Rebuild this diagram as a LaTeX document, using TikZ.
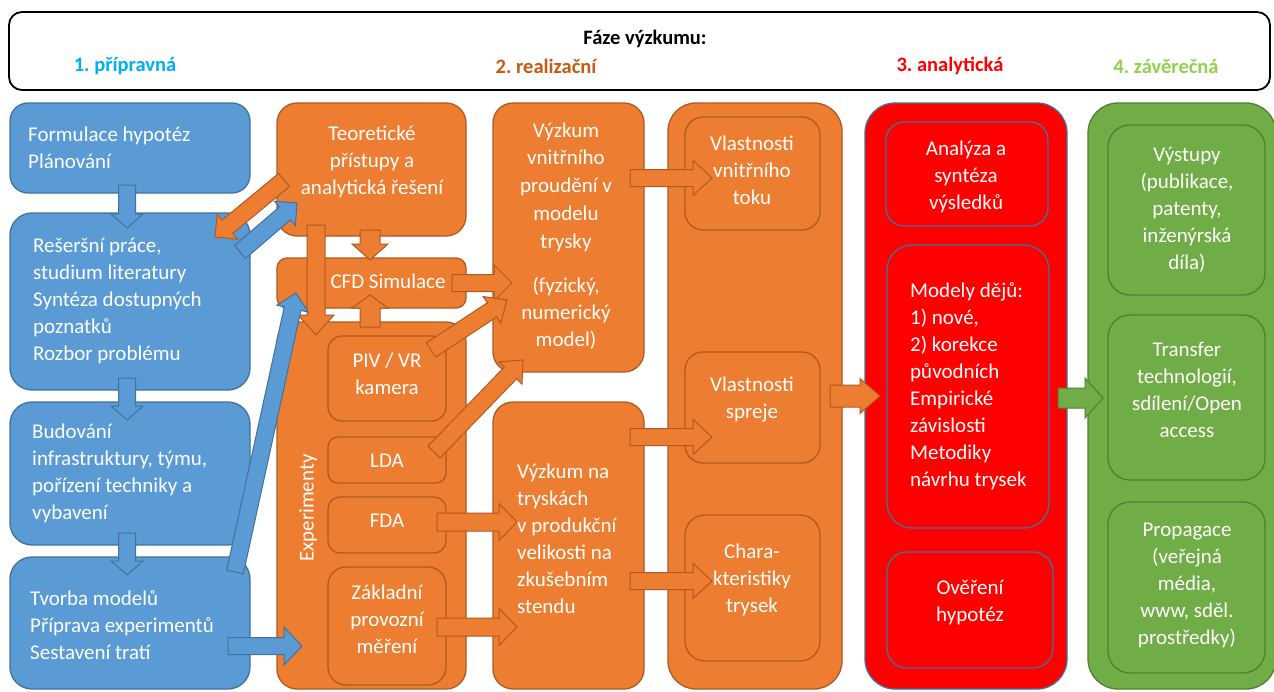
\documentclass[tikz,border=0pt]{standalone}
\usepackage{fontspec}
\setmainfont{Carlito}
\usetikzlibrary{calc}
\frenchspacing
\definecolor{bfill}{HTML}{5B9BD5}
\definecolor{bdraw}{HTML}{41719C}
\definecolor{ofill}{HTML}{ED7D31}
\definecolor{odraw}{HTML}{AE5A21}
\definecolor{rfill}{HTML}{FF0000}
\definecolor{gfill}{HTML}{70AD47}
\definecolor{gdraw}{HTML}{507E32}
\definecolor{phblue}{HTML}{00B0F0}
\definecolor{phorange}{HTML}{C55A11}
\definecolor{phred}{HTML}{FF0000}
\definecolor{phgreen}{HTML}{92D050}
\newcommand{\blockarrow}[6]{%
  \coordinate (bacc) at ($(#3)!#6pt!(#2)$);
  \filldraw[#1] ($(#2)!#4pt!90:(#3)$) -- ($(bacc)!#4pt!-90:(#2)$) -- ($(bacc)!#5pt!-90:(#2)$) -- (#3) -- ($(bacc)!#5pt!90:(#2)$) -- ($(bacc)!#4pt!90:(#2)$) -- ($(#2)!#4pt!-90:(#3)$) -- cycle;}
\newcommand{\boxat}[6]{% style, name, x1,y1,x2,y2
  \draw[#1] (#3,#4) rectangle (#5,#6);
  \coordinate (#2) at ({(#3+#5)/2},{(#4+#6)/2});}
\tikzset{
  bluebox/.style={fill=bfill, draw=bdraw, line width=1.3pt},
  orangebox/.style={fill=ofill, draw=odraw, line width=1.3pt},
  redbox/.style={fill=rfill, draw=bdraw, line width=1.3pt},
  greenbox/.style={fill=gfill, draw=gdraw, line width=1.3pt},
  barr/.style={fill=bfill, draw=bdraw, line width=1pt, line join=miter},
  oarr/.style={fill=ofill, draw=odraw, line width=1pt, line join=miter},
  garr/.style={fill=gfill, draw=gdraw, line width=1pt, line join=miter},
  txt/.style={text=white, font=\fontsize{21}{27}\selectfont, inner sep=0pt, align=center},
  ltxt/.style={txt, align=left, anchor=west},
  phase/.style={font=\fontsize{20.5}{22}\selectfont\bfseries, inner sep=0pt},
}
\begin{document}
\begin{tikzpicture}[x=1pt,y=-1pt]
\useasboundingbox (0,0) rectangle (1274,691);
\clip (0,0) rectangle (1274,691);
\fill[white] (0,0) rectangle (1274,691);
% header
\draw[black, line width=1.8pt, rounded corners=13pt, fill=white] (9,12) rectangle (1270,90);
\node[phase] (title) at (645,39) {Fáze výzkumu:};
\node[phase, text=phblue] (ph1) at (125,66) {1. přípravná};
\node[phase, text=phorange] (ph2) at (546,66) {2. realizační};
\node[phase, text=phred] (ph3) at (950,66) {3. analytická};
\node[phase, text=phgreen] (ph4) at (1166,66) {4. závěrečná};
% blue column
\boxat{bluebox, rounded corners=18pt}{b1}{10}{103}{250}{193}
\boxat{bluebox, rounded corners=22pt}{b2}{10}{213}{250}{390}
\boxat{bluebox, rounded corners=22pt}{b3}{10}{402}{250}{545}
\boxat{bluebox, rounded corners=22pt}{b4}{10}{557}{250}{689}
\node[ltxt] (b1t) at (28,148) {Formulace hypotéz\\Plánování};
\node[ltxt] (b2t) at (33,301) {Rešeršní práce,\\studium literatury\\Syntéza dostupných\\poznatků\\Rozbor problému};
\node[ltxt] (b3t) at (32,473) {Budování\\infrastruktury, týmu,\\pořízení techniky a\\vybavení};
\node[ltxt] (b4t) at (30,625) {Tvorba modelů\\Příprava experimentů\\Sestavení tratí};
% orange column 1
\boxat{orangebox, rounded corners=20pt}{teo}{277}{103}{466}{236}
\boxat{orangebox, rounded corners=10pt}{cfd}{277}{258}{466}{308}
\boxat{orangebox, rounded corners=20pt}{exp}{277}{322}{466}{689}
\boxat{orangebox, rounded corners=14pt}{piv}{328}{336}{446}{421}
\boxat{orangebox, rounded corners=10pt}{lda}{328}{437}{446}{483}
\boxat{orangebox, rounded corners=12pt}{fda}{328}{497}{446}{553}
\boxat{orangebox, rounded corners=18pt}{zak}{328}{567}{446}{685}
\node[txt] (teot) at (372,162) {Teoretické\\přístupy a\\analytická řešení};
\node[txt, rotate=90] (expt) at (308,508) {Experimenty};
\node[txt] (pivt) at (387,374) {PIV / VR\\kamera};
\node[txt] (ldat) at (387,461) {LDA};
\node[txt] (fdat) at (387,521) {FDA};
\node[txt] (zakt) at (387,619) {Základní\\provozní\\měření};
% orange column 2
\boxat{orangebox, rounded corners=20pt}{vvp}{493}{103}{644}{372}
\boxat{orangebox, rounded corners=20pt}{vnt}{493}{402}{644}{689}
\node[txt, font=\fontsize{21}{27.7}\selectfont] (vvpt) at (566,187) {Výzkum\\vnitřního\\proudění v\\modelu\\trysky};
\node[txt] (vvpt2) at (566,313) {(fyzický,\\numerický\\model)};
\node[ltxt] (vntt) at (517,539) {Výzkum na\\tryskách\\v produkční\\velikosti na\\zkušebním\\stendu};
% orange column 3
\boxat{orangebox, rounded corners=28pt}{col3}{668}{103}{842}{689}
\boxat{orangebox, rounded corners=18pt}{vvt}{685}{117}{820}{230}
\boxat{orangebox, rounded corners=18pt}{vsp}{685}{352}{820}{463}
\boxat{orangebox, rounded corners=20pt}{cht}{685}{515}{820}{661}
\node[txt] (vvtt) at (752,170) {Vlastnosti\\vnitřního\\toku};
\node[txt] (vspt) at (752,400) {Vlastnosti\\spreje};
\node[txt] (chtt) at (752,580) {Chara-\\kteristiky\\trysek};
% red column
\boxat{redbox, rounded corners=30pt}{red}{865}{103}{1067}{689}
\boxat{redbox, rounded corners=18pt}{ana}{886}{122}{1048}{226}
\boxat{redbox, rounded corners=25pt}{mod}{887}{245}{1049}{528}
\boxat{redbox, rounded corners=20pt}{ove}{887}{552}{1053}{668}
\node[txt] (anat) at (966,177) {Analýza a\\syntéza\\výsledků};
\node[ltxt] (modt) at (910,386) {Modely dějů:\\1) nové,\\2) korekce\\původních\\Empirické\\závislosti\\Metodiky\\návrhu trysek};
\node[txt] (ovet) at (970,603) {Ověření\\hypotéz};
% green column
\boxat{greenbox, rounded corners=30pt}{grn}{1088}{103}{1276}{689}
\boxat{greenbox, rounded corners=22pt}{vys}{1108}{125}{1265}{295}
\boxat{greenbox, rounded corners=22pt}{tra}{1108}{315}{1265}{480}
\boxat{greenbox, rounded corners=22pt}{pro}{1108}{502}{1265}{673}
\node[txt] (vyst) at (1187,210) {Výstupy\\(publikace,\\patenty,\\inženýrská\\díla)};
\node[txt] (trat) at (1187,390) {Transfer\\technologií,\\sdílení/Open\\access};
\node[txt] (prot) at (1187,585) {Propagace\\(veřejná\\média,\\www, sděl.\\prostředky)};
% arrow end points
\coordinate (a12s) at (127,185); \coordinate (a12e) at (127,228);
\coordinate (a23s) at (127,378); \coordinate (a23e) at (127,420);
\coordinate (a34s) at (127,533); \coordinate (a34e) at (127,575);
\coordinate (b4xs) at (228,646); \coordinate (b4xe) at (302,646);
\coordinate (b4cs) at (235,572); \coordinate (b4ce) at (296,293);
\coordinate (b2ts) at (240,252); \coordinate (b2te) at (297,203);
\coordinate (t2bs) at (284,180); \coordinate (t2be) at (215,237);
\coordinate (tcs) at (370,230); \coordinate (tce) at (370,260);
\coordinate (ecs) at (370,327); \coordinate (ece) at (370,295);
\coordinate (tes) at (316,225); \coordinate (tee) at (316,335);
\coordinate (cvs) at (452,283); \coordinate (cve) at (512,283);
\coordinate (pvs) at (431,350); \coordinate (pve) at (507,300);
\coordinate (lvs) at (434,452); \coordinate (lve) at (523,360);
\coordinate (fvs) at (437,522); \coordinate (fve) at (517,522);
\coordinate (zvs) at (437,627); \coordinate (zve) at (517,627);
\coordinate (v1s) at (630,178); \coordinate (v1e) at (712,178);
\coordinate (v2s) at (630,437); \coordinate (v2e) at (712,437);
\coordinate (v3s) at (630,581); \coordinate (v3e) at (712,581);
\coordinate (crs) at (830,396); \coordinate (cre) at (880,396);
\coordinate (rgs) at (1058,398); \coordinate (rge) at (1103,398);
% arrows
\blockarrow{barr}{a12s}{a12e}{8.5}{16}{14}
\blockarrow{barr}{a23s}{a23e}{8.5}{16}{14}
\blockarrow{barr}{a34s}{a34e}{8.5}{16}{14}
\blockarrow{oarr}{t2bs}{t2be}{8.5}{16}{16}
\blockarrow{barr}{b2ts}{b2te}{8.5}{16}{16}
\blockarrow{oarr}{tcs}{tce}{10}{18}{16}
\blockarrow{oarr}{ecs}{ece}{10}{18}{13}
\blockarrow{oarr}{tes}{tee}{9}{18}{20}
\blockarrow{barr}{b4cs}{b4ce}{8.5}{16}{16}
\blockarrow{barr}{b4xs}{b4xe}{8.5}{19}{18}
\blockarrow{oarr}{cvs}{cve}{8.5}{18}{18}
\blockarrow{oarr}{pvs}{pve}{8.5}{16}{18}
\blockarrow{oarr}{lvs}{lve}{8.5}{16}{18}
\blockarrow{oarr}{fvs}{fve}{9}{18.5}{18}
\blockarrow{oarr}{zvs}{zve}{9}{18.5}{18}
\blockarrow{oarr}{v1s}{v1e}{8.5}{17.5}{19}
\blockarrow{oarr}{v2s}{v2e}{8.5}{17.5}{19}
\blockarrow{oarr}{v3s}{v3e}{8.5}{17.5}{19}
\blockarrow{oarr}{crs}{cre}{11}{17.5}{20}
\blockarrow{garr}{rgs}{rge}{10}{20}{18}
\node[txt] (cfdt) at (388,281) {CFD Simulace};
\end{tikzpicture}
\end{document}
